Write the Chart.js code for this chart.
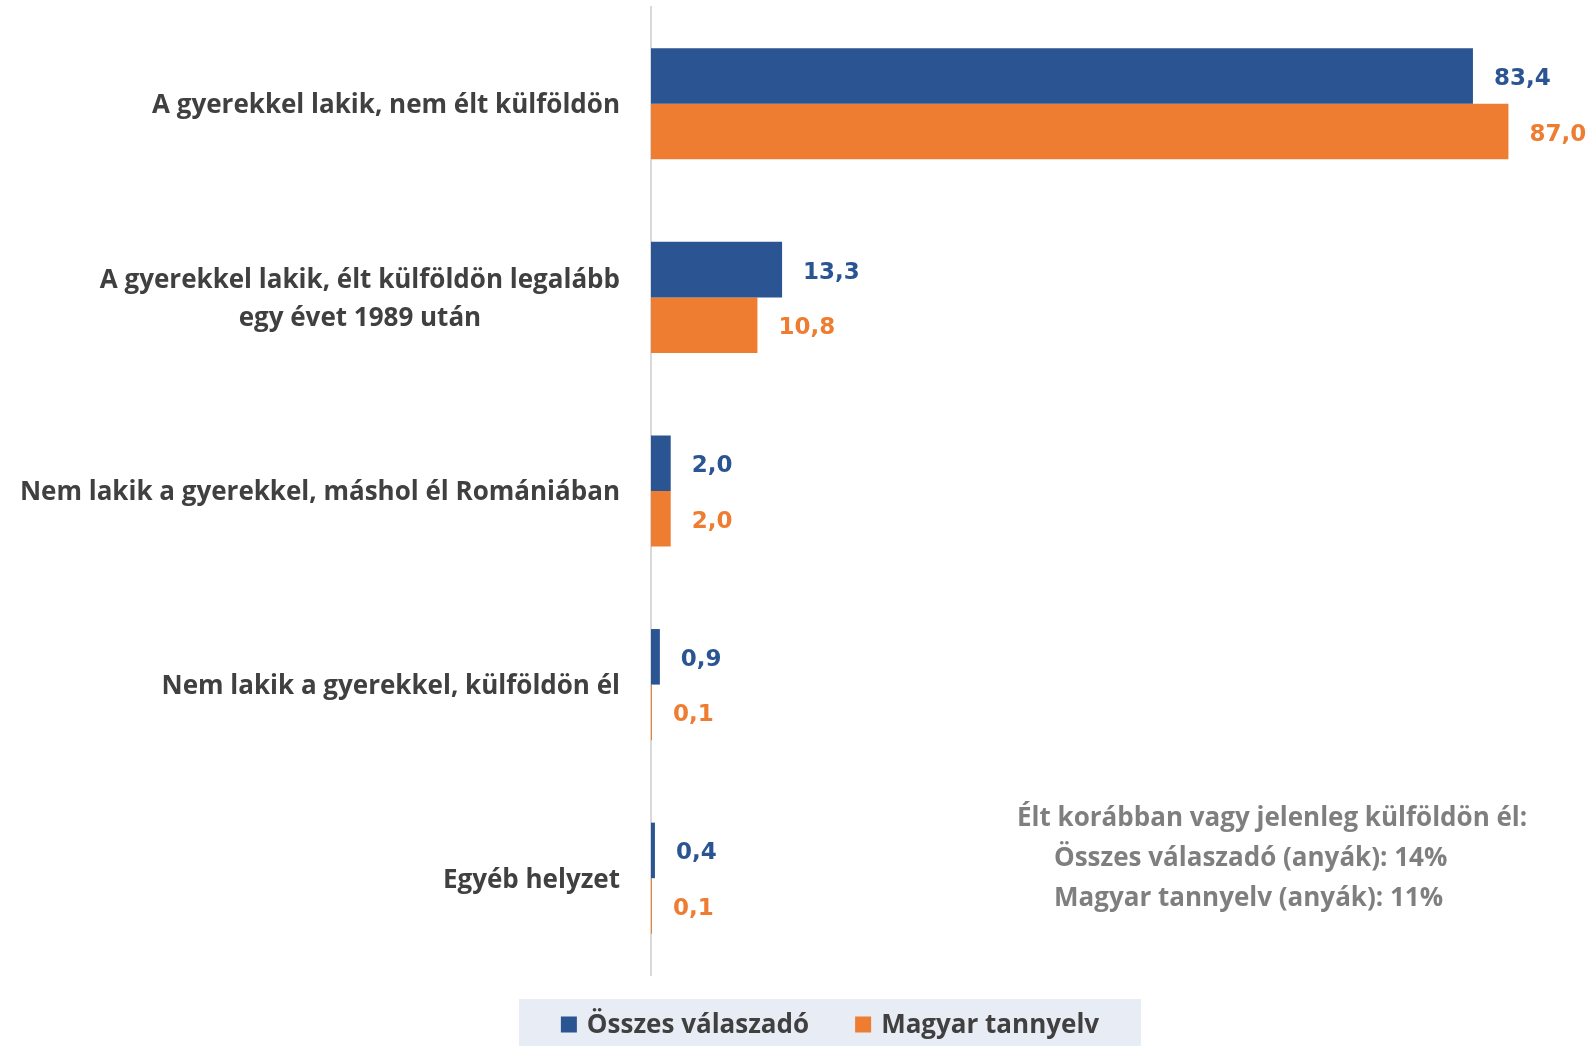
<!DOCTYPE html>
<html>
<head>
<meta charset="utf-8">
<script src="https://cdn.jsdelivr.net/npm/chart.js@4/dist/chart.umd.min.js"></script>
<style>
  html, body { margin: 0; padding: 0; background: #fff; }
  canvas { display: block; }
</style>
</head>
<body>
<canvas id="chart" width="1594" height="1046"></canvas>
<script>
// categories (multi-line where the original wraps)
const categories = [
  ["A gyerekkel lakik, nem élt külföldön"],
  ["A gyerekkel lakik, élt külföldön legalább", "egy évet 1989 után"],
  ["Nem lakik a gyerekkel, máshol él Romániában"],
  ["Nem lakik a gyerekkel, külföldön él"],
  ["Egyéb helyzet"]
];
const seriesNames = ["Összes válaszadó", "Magyar tannyelv"];
const osszesValues = [83.4, 13.3, 2.0, 0.9, 0.4];
const magyarValues = [87.0, 10.8, 2.0, 0.1, 0.1];
const noteLines = [
  "Élt korábban vagy jelenleg külföldön él:",
  "Összes válaszadó (anyák): 14%",
  "Magyar tannyelv (anyák): 11%"
];

const BLUE = '#2B5592';
const ORANGE = '#EE7D31';
const LABEL_FONT = 'bold 26px "Open Sans"';

// category labels, centred block right aligned to the axis
const categoryLabels = {
  id: 'categoryLabels',
  afterDraw(chart) {
    const ctx = chart.ctx;
    const y = chart.scales.y;
    ctx.save();
    ctx.font = LABEL_FONT;
    ctx.fillStyle = '#404040';
    ctx.textAlign = 'center';
    ctx.textBaseline = 'middle';
    chart.data.labels.forEach((lines, i) => {
      const cy = y.getPixelForValue(i) + 2;
      const maxW = Math.max(...lines.map(l => ctx.measureText(l).width));
      const cx = chart.chartArea.left - 31 - maxW / 2;
      const lh = 38;
      lines.forEach((l, j) => {
        ctx.fillText(l, cx, cy - (lines.length - 1) * lh / 2 + j * lh);
      });
    });
    ctx.restore();
  }
};

// value labels at the end of each bar
const valueLabels = {
  id: 'valueLabels',
  afterDatasetsDraw(chart) {
    const ctx = chart.ctx;
    ctx.save();
    ctx.font = 'bold 23px "DejaVu Sans"';
    ctx.textAlign = 'left';
    ctx.textBaseline = 'middle';
    chart.data.datasets.forEach((ds, di) => {
      const meta = chart.getDatasetMeta(di);
      ctx.fillStyle = ds.backgroundColor;
      meta.data.forEach((bar, i) => {
        const txt = ds.data[i].toFixed(1).replace('.', ',');
        ctx.fillText(txt, bar.x + 21, bar.y + 3);
      });
    });
    ctx.restore();
  }
};

// note text + legend box
const extras = {
  id: 'extras',
  afterDraw(chart) {
    const ctx = chart.ctx;
    ctx.save();
    ctx.font = LABEL_FONT;
    ctx.fillStyle = '#7F7F7F';
    ctx.textAlign = 'left';
    ctx.textBaseline = 'middle';
    ctx.fillText(noteLines[0], 1017, 819);
    ctx.fillText(noteLines[1], 1054, 859);
    ctx.fillText(noteLines[2], 1054, 899);

    // legend
    const boxL = 519, boxR = 1141, boxT = 999, boxB = 1046;
    ctx.fillStyle = '#E8ECF4';
    ctx.fillRect(boxL, boxT, boxR - boxL, boxB - boxT);
    const items = chart.data.datasets.map(ds => ({ text: ds.label, color: ds.backgroundColor }));
    const widths = items.map(it => 16 + 10 + ctx.measureText(it.text).width);
    const gap = 46;
    const total = widths.reduce((a, b) => a + b, 0) + gap * (items.length - 1);
    let x = (boxL + boxR) / 2 - total / 2;
    const cy = (boxT + boxB) / 2 + 2;
    items.forEach((it, i) => {
      ctx.fillStyle = it.color;
      ctx.fillRect(x, cy - 8, 16, 16);
      ctx.fillStyle = '#404040';
      ctx.fillText(it.text, x + 26, cy + 1);
      x += widths[i] + gap;
    });
    ctx.restore();
  }
};

const ctx = document.getElementById('chart').getContext('2d');
new Chart(ctx, {
  type: 'bar',
  data: {
    labels: categories,
    datasets: [
      { label: seriesNames[0], data: osszesValues, backgroundColor: BLUE },
      { label: seriesNames[1], data: magyarValues, backgroundColor: ORANGE }
    ]
  },
  options: {
    indexAxis: 'y',
    responsive: false,
    devicePixelRatio: 1,
    animation: false,
    datasets: {
      bar: { categoryPercentage: 0.574, barPercentage: 1.0 }
    },
    layout: { padding: { top: 7, right: 56, bottom: 71, left: 0 } },
    scales: {
      x: { min: 0, max: 90, display: false },
      y: {
        grid: { display: false },
        border: { color: '#D9D9D9', width: 2 },
        ticks: { display: false },
        afterFit: s => { s.width = 651; }
      }
    },
    plugins: {
      legend: { display: false },
      tooltip: { enabled: false }
    }
  },
  plugins: [categoryLabels, valueLabels, extras]
});
</script>
</body>
</html>
